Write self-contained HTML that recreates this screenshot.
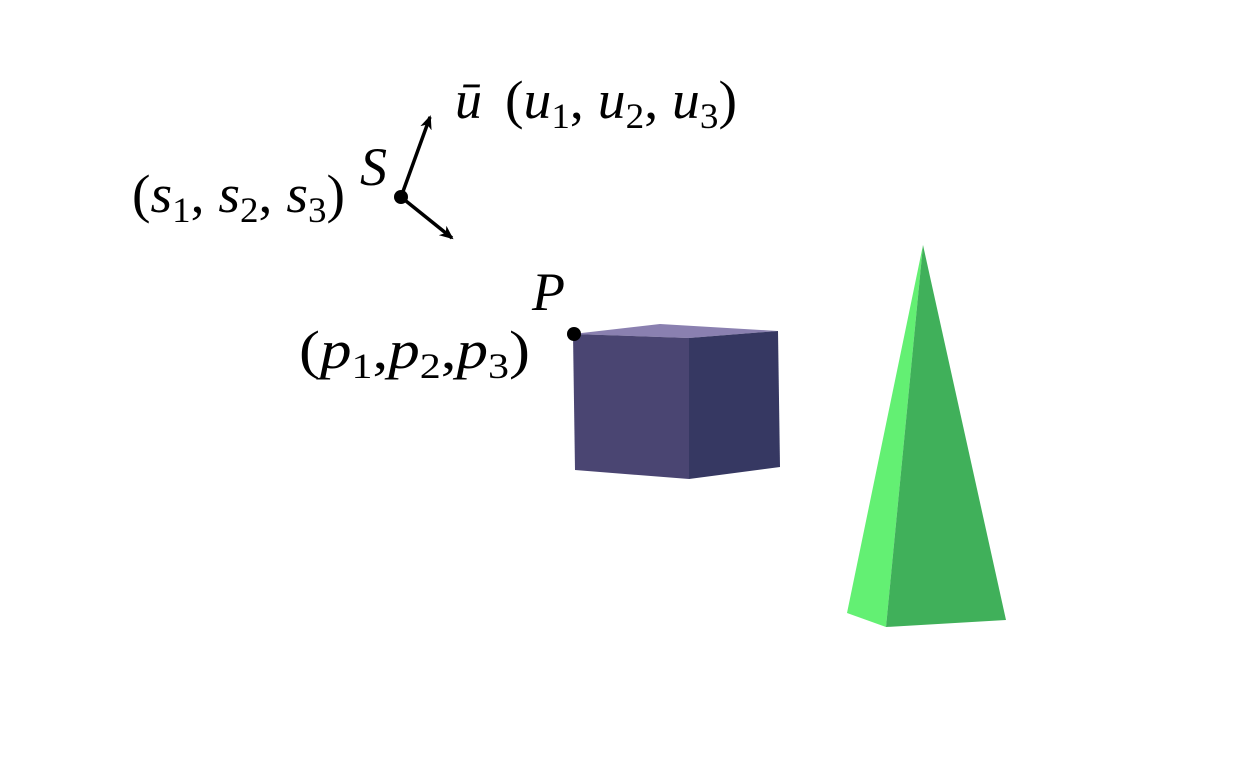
<!DOCTYPE html>
<html><head><meta charset="utf-8"><style>
html,body{margin:0;padding:0;background:#fff;}
svg{display:block;}
text{font-family:"Liberation Serif",serif;font-size:54px;fill:#000;}
.i{font-style:italic;}
.sub{font-size:36px;font-style:normal;}
</style></head><body>
<svg width="1235" height="777" viewBox="0 0 1235 777">
<defs><marker id="ah" markerWidth="14" markerHeight="12" refX="12" refY="6" orient="auto" markerUnits="userSpaceOnUse"><path d="M0,0 L14,6 L0,12 L4,6 Z" fill="#000"/></marker></defs>
<g>
<polygon points="573,334 660,324 778,331 689,338" fill="#8a80b0"/>
<polygon points="573,334 689,338 689,479 575,470" fill="#4a4572"/>
<polygon points="689,338 778,331 780,467 689,479" fill="#363862"/>
</g>
<g>
<polygon points="923,245 847,613 886,627" fill="#63f073"/>
<polygon points="923,245 886,627 1006,620" fill="#40b05a"/>
</g>
<g>
<line x1="401" y1="197" x2="430" y2="117" stroke="#000" stroke-width="3.5" marker-end="url(#ah)"/>
<line x1="401" y1="197" x2="452" y2="238" stroke="#000" stroke-width="3.5" marker-end="url(#ah)"/>
<circle cx="401" cy="197" r="7" fill="#000"/>
<circle cx="574" cy="334" r="7" fill="#000"/>
</g>
<text x="132" y="212" textLength="213" lengthAdjust="spacingAndGlyphs">(<tspan class="i">s</tspan><tspan class="sub" dy="10">1</tspan><tspan dy="-10">, </tspan><tspan class="i">s</tspan><tspan class="sub" dy="10">2</tspan><tspan dy="-10">, </tspan><tspan class="i">s</tspan><tspan class="sub" dy="10">3</tspan><tspan dy="-10">)</tspan></text>
<text class="i" x="360" y="185">S</text>
<text class="i" x="455" y="118">ū</text>
<text x="505" y="118" textLength="232" lengthAdjust="spacingAndGlyphs">(<tspan class="i">u</tspan><tspan class="sub" dy="10">1</tspan><tspan dy="-10">, </tspan><tspan class="i">u</tspan><tspan class="sub" dy="10">2</tspan><tspan dy="-10">, </tspan><tspan class="i">u</tspan><tspan class="sub" dy="10">3</tspan><tspan dy="-10">)</tspan></text>
<text class="i" x="532" y="310">P</text>
<text x="299" y="368" textLength="231" lengthAdjust="spacingAndGlyphs">(<tspan class="i">p</tspan><tspan class="sub" dy="10">1</tspan><tspan dy="-10">,</tspan><tspan class="i">p</tspan><tspan class="sub" dy="10">2</tspan><tspan dy="-10">,</tspan><tspan class="i">p</tspan><tspan class="sub" dy="10">3</tspan><tspan dy="-10">)</tspan></text>
</svg>
</body></html>
